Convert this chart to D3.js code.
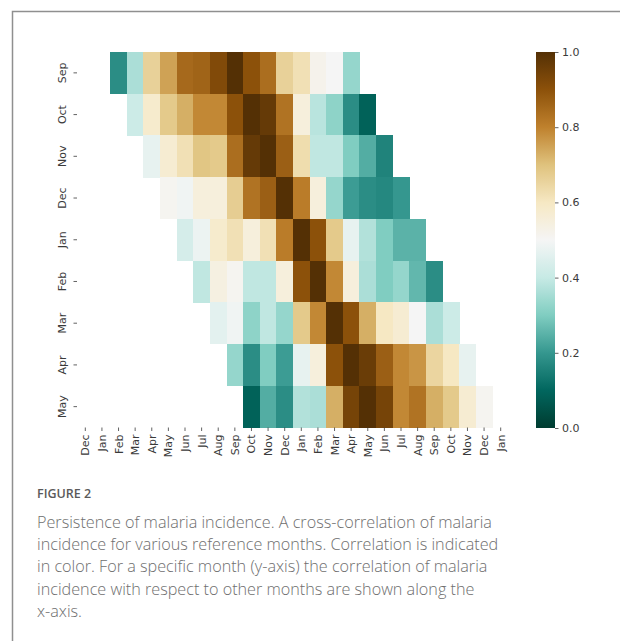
<!DOCTYPE html>
<html>
<head>
<meta charset="utf-8">
<script src="https://cdn.jsdelivr.net/npm/d3@7"></script>
<style>
  html, body { margin: 0; padding: 0; background: #fff; }
  svg { display: block; }
</style>
</head>
<body>
<svg id="fig" width="620" height="641"></svg>
<script>
// Reference months (rows) and the calendar months they are correlated against (columns)
const rowMonths = ["Sep", "Oct", "Nov", "Dec", "Jan", "Feb", "Mar", "Apr", "May"];
const colMonths = ["Dec", "Jan", "Feb", "Mar", "Apr", "May", "Jun", "Jul", "Aug", "Sep", "Oct", "Nov",
                   "Dec", "Jan", "Feb", "Mar", "Apr", "May", "Jun", "Jul", "Aug", "Sep", "Oct", "Nov",
                   "Dec", "Jan"];

// Correlation per reference month; null where the lag window has no data
const _ = null;
const corrSep = [_, _, 0.18, 0.36, 0.66, 0.75, 0.85, 0.86, 0.92, 1.00, 0.90, 0.84, 0.66, 0.62, 0.52, 0.50, 0.33, _, _, _, _, _, _, _, _, _];
const corrOct = [_, _, _, 0.41, 0.58, 0.68, 0.73, 0.79, 0.79, 0.90, 1.00, 0.97, 0.83, 0.55, 0.38, 0.32, 0.18, 0.09, _, _, _, _, _, _, _, _];
const corrNov = [_, _, _, _, 0.47, 0.57, 0.62, 0.69, 0.68, 0.84, 0.97, 1.00, 0.87, 0.63, 0.39, 0.39, 0.30, 0.24, 0.16, _, _, _, _, _, _, _];
const corrDec = [_, _, _, _, _, 0.51, 0.49, 0.55, 0.55, 0.67, 0.83, 0.87, 1.00, 0.81, 0.55, 0.33, 0.21, 0.18, 0.17, 0.20, _, _, _, _, _, _];
const corrJan = [_, _, _, _, _, _, 0.43, 0.48, 0.58, 0.62, 0.55, 0.62, 0.81, 1.00, 0.90, 0.68, 0.47, 0.37, 0.30, 0.25, 0.25, _, _, _, _, _];
const corrFeb = [_, _, _, _, _, _, _, 0.39, 0.54, 0.51, 0.39, 0.39, 0.55, 0.90, 1.00, 0.79, 0.55, 0.36, 0.30, 0.33, 0.26, 0.18, _, _, _, _];
const corrMar = [_, _, _, _, _, _, _, _, 0.46, 0.49, 0.32, 0.39, 0.33, 0.68, 0.79, 1.00, 0.90, 0.73, 0.60, 0.57, 0.50, 0.36, 0.41, _, _, _];
const corrApr = [_, _, _, _, _, _, _, _, _, 0.33, 0.18, 0.30, 0.21, 0.47, 0.55, 0.90, 1.00, 0.96, 0.87, 0.79, 0.77, 0.65, 0.60, 0.47, _, _];
const corrMay = [_, _, _, _, _, _, _, _, _, _, 0.09, 0.24, 0.18, 0.37, 0.36, 0.73, 0.94, 1.00, 0.94, 0.79, 0.83, 0.73, 0.68, 0.57, 0.51, _];
const correlation = [corrSep, corrOct, corrNov, corrDec, corrJan, corrFeb, corrMar, corrApr, corrMay];

const colorbarTicks = [0.0, 0.2, 0.4, 0.6, 0.8, 1.0];

const captionTitle = "FIGURE 2";
const captionLines = [
  "Persistence of malaria incidence. A cross-correlation of malaria",
  "incidence for various reference months. Correlation is indicated",
  "in color. For a specific month (y-axis) the correlation of malaria",
  "incidence with respect to other months are shown along the",
  "x-axis."
];

// Reversed BrBG (brown = high, teal = low), piecewise linear through the 11 anchor colours
const brbg = ["#543005", "#8c510a", "#bf812d", "#dfc27d", "#f6e8c3", "#f5f5f5",
              "#c7eae5", "#80cdc1", "#35978f", "#01665e", "#003c30"];
const color = d3.scaleLinear()
  .domain(d3.range(11).map(i => i / 10))
  .range(brbg.slice().reverse())
  .interpolate(d3.interpolateRgb)
  .clamp(true);

const svg = d3.select("#fig");
const labelFont = "'DejaVu Sans', sans-serif";
const textColor = "#3a3a3a";

// Outer frame (top and left rules)
svg.append("path")
  .attr("d", "M12.5,641 L12.5,11.5 L620,11.5")
  .attr("fill", "none")
  .attr("stroke", "#8f8f8f")
  .attr("stroke-width", 1.5);

// Heatmap area
const hm = { left: 77, right: 509, top: 52, bottom: 427.5 };
const x = d3.scaleBand().domain(d3.range(colMonths.length)).range([hm.left, hm.right]);
const y = d3.scaleBand().domain(d3.range(rowMonths.length)).range([hm.top, hm.bottom]);

const cells = [];
correlation.forEach((row, r) => row.forEach((v, c) => { if (v !== null) cells.push({ r, c, v }); }));

svg.append("g").selectAll("rect")
  .data(cells)
  .join("rect")
  .attr("x", d => x(d.c))
  .attr("y", d => y(d.r))
  .attr("width", x.bandwidth() + 0.4)
  .attr("height", y.bandwidth() + 0.4)
  .attr("fill", d => color(d.v))
  .attr("shape-rendering", "crispEdges");

// Y axis: reference months, rotated labels
const yAxisG = svg.append("g");
rowMonths.forEach((m, i) => {
  const cy = y(i) + y.bandwidth() / 2;
  yAxisG.append("line")
    .attr("x1", hm.left - 3.5).attr("x2", hm.left)
    .attr("y1", cy).attr("y2", cy)
    .attr("stroke", textColor).attr("stroke-width", 0.8);
  yAxisG.append("text")
    .attr("transform", `translate(${hm.left - 11},${cy}) rotate(-90)`)
    .attr("text-anchor", "middle")
    .attr("font-family", labelFont)
    .attr("font-size", 11)
    .attr("fill", textColor)
    .text(m);
});

// X axis: calendar months, rotated labels
const xAxisG = svg.append("g");
colMonths.forEach((m, i) => {
  const cx = x(i) + x.bandwidth() / 2;
  xAxisG.append("line")
    .attr("x1", cx).attr("x2", cx)
    .attr("y1", hm.bottom).attr("y2", hm.bottom + 3.5)
    .attr("stroke", textColor).attr("stroke-width", 0.8);
  xAxisG.append("text")
    .attr("transform", `translate(${cx + 4},${hm.bottom + 7}) rotate(-90)`)
    .attr("text-anchor", "end")
    .attr("font-family", labelFont)
    .attr("font-size", 11)
    .attr("fill", textColor)
    .text(m);
});

// Colour bar
const cb = { x: 536, width: 19, top: 52, bottom: 428 };
const defs = svg.append("defs");
const grad = defs.append("linearGradient")
  .attr("id", "cbGrad")
  .attr("x1", 0).attr("y1", 1).attr("x2", 0).attr("y2", 0);
d3.range(0, 1.0001, 0.02).forEach(t => {
  grad.append("stop").attr("offset", t).attr("stop-color", color(t));
});
svg.append("rect")
  .attr("x", cb.x).attr("y", cb.top)
  .attr("width", cb.width).attr("height", cb.bottom - cb.top)
  .attr("fill", "url(#cbGrad)");

const cbScale = d3.scaleLinear().domain([0, 1]).range([cb.bottom, cb.top]);
const cbAxis = svg.append("g")
  .attr("transform", `translate(${cb.x + cb.width},0)`)
  .call(d3.axisRight(cbScale).tickValues(colorbarTicks).tickFormat(d3.format(".1f")).tickSize(3.5).tickPadding(3.5));
cbAxis.select(".domain").remove();
cbAxis.selectAll(".tick line").attr("stroke", textColor).attr("stroke-width", 0.8);
cbAxis.selectAll(".tick text")
  .attr("font-family", labelFont)
  .attr("font-size", 11)
  .attr("fill", textColor);

// Caption
const capFont = "'Open Sans', sans-serif";
svg.append("text")
  .attr("x", 37).attr("y", 498)
  .attr("font-family", capFont)
  .attr("font-size", 12.5)
  .attr("font-weight", 600)
  .attr("fill", "#5a5a5a")
  .text(captionTitle);

const capG = svg.append("g");
const capTexts = capG.selectAll("text")
  .data(captionLines)
  .join("text")
  .attr("x", 37)
  .attr("y", (d, i) => 527.5 + i * 22.4)
  .attr("font-family", capFont)
  .attr("font-size", 17)
  .attr("font-weight", 300)
  .attr("fill", "#6e6e6e")
  .text(d => d);

// Size the caption so the first line spans the text column width
const firstLen = capTexts.nodes()[0].getComputedTextLength();
const fitted = 17 * 455 / firstLen;
capTexts.attr("font-size", fitted);
</script>
</body>
</html>
